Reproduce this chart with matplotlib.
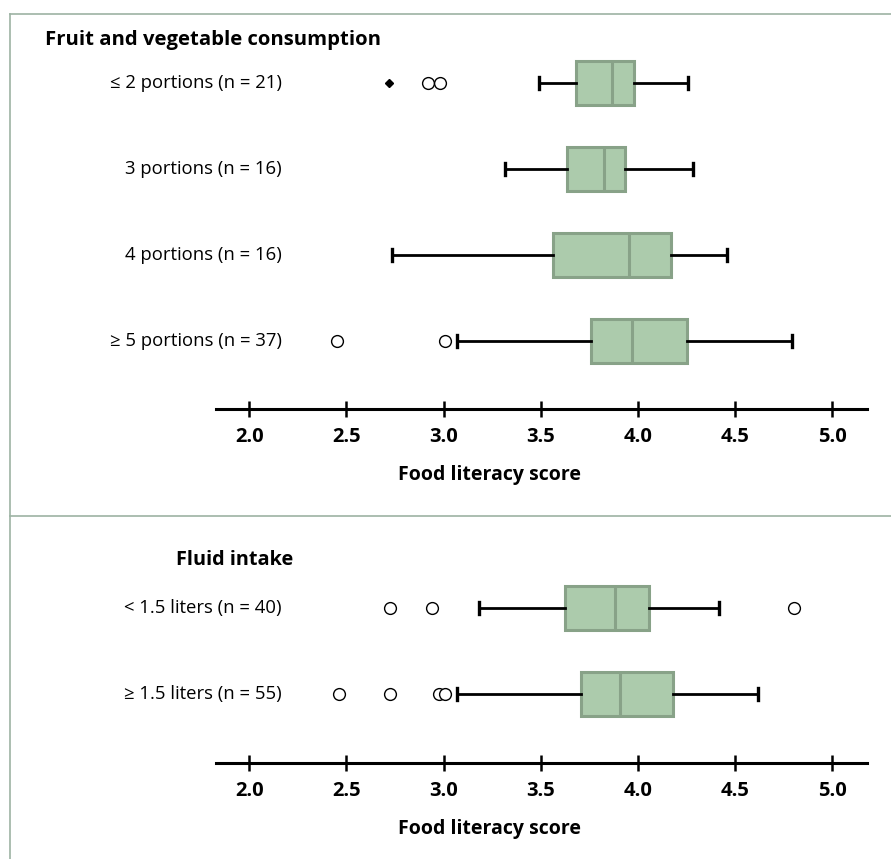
import matplotlib
matplotlib.use("Agg")
import matplotlib.pyplot as plt
from matplotlib import transforms
from matplotlib.lines import Line2D

plt.rcParams['font.family'] = ['Open Sans', 'DejaVu Sans']

# fruit and vegetable consumption
fv_labels = ["\u2264 2 portions (n = 21)", "3 portions (n = 16)",
             "4 portions (n = 16)", "\u2265 5 portions (n = 37)"]
fv_q1 = [3.68, 3.637, 3.565, 3.757]
fv_med = [3.865, 3.827, 3.954, 3.968]
fv_q3 = [3.98, 3.934, 4.17, 4.251]
fv_lo = [3.493, 3.316, 2.734, 3.071]
fv_hi = [4.259, 4.285, 4.457, 4.795]
fv_out = [[2.92, 2.981], [], [], [2.453, 3.007]]
fv_extreme = [[2.721], [], [], []]

# fluid intake
fl_labels = ["< 1.5 liters (n = 40)", "\u2265 1.5 liters (n = 55)"]
fl_q1 = [3.625, 3.706]
fl_med = [3.882, 3.906]
fl_q3 = [4.057, 4.182]
fl_lo = [3.18, 3.069]
fl_hi = [4.415, 4.618]
fl_out = [[2.724, 2.94, 4.801], [2.46, 2.726, 2.976, 3.005]]
fl_extreme = [[], []]

ticks = [2.0, 2.5, 3.0, 3.5, 4.0, 4.5, 5.0]

W, H = 891, 859
face = '#accbac'
edge = '#88a288'
frame = '#9db3a3'

fig = plt.figure(figsize=(W / 100, H / 100), dpi=100)


def panel(top_px, axis_px, row0_px, labels, q1, med, q3, lo, hi, out, extreme):
    ax = fig.add_axes([215.7 / W, 1 - axis_px / H, 651 / W, (axis_px - top_px) / H])
    stats = []
    for i in range(len(labels)):
        stats.append(dict(med=med[i], q1=q1[i], q3=q3[i], whislo=lo[i],
                          whishi=hi[i], fliers=out[i]))
    pos = list(range(len(labels)))
    ax.bxp(stats, positions=pos, vert=False, widths=0.51, patch_artist=True,
           capwidths=0.14,
           boxprops=dict(facecolor=face, edgecolor=edge, linewidth=2.2),
           medianprops=dict(color=edge, linewidth=2.2),
           whiskerprops=dict(color='black', linewidth=2.0),
           capprops=dict(color='black', linewidth=2.4),
           flierprops=dict(marker='o', markerfacecolor='white',
                           markeredgecolor='black', markersize=8.5,
                           markeredgewidth=1.0))
    for i, ex in enumerate(extreme):
        if ex:
            ax.plot(ex, [i] * len(ex), 'D', color='black', markersize=4.5)
    ax.set_xlim((215.7 - 249.3) / 194.3 + 2, (866.7 - 249.3) / 194.3 + 2)
    ax.set_ylim((axis_px - row0_px) / 86, (top_px - row0_px) / 86)
    ax.set_yticks([])
    ax.set_xticks(ticks)
    ax.set_xticklabels(["%.1f" % t for t in ticks], fontsize=14.5, fontweight='bold')
    ax.tick_params(axis='x', direction='inout', length=12, width=1.8, pad=7)
    for s in ['left', 'right', 'top']:
        ax.spines[s].set_visible(False)
    ax.spines['bottom'].set_linewidth(2.2)
    ax.set_xlabel("Food literacy score", fontsize=14, fontweight='bold', va='center')
    ax.xaxis.set_label_coords((490 - 215.7) / 651, -66 / (axis_px - top_px))
    tr = transforms.blended_transform_factory(fig.transFigure, ax.transData)
    for i, lab in enumerate(labels):
        ax.text(282 / W, i, lab, transform=tr, ha='right', va='center',
                fontsize=13.3, clip_on=False)
    return ax


panel(40, 409.3, 82.7, fv_labels, fv_q1, fv_med, fv_q3, fv_lo, fv_hi, fv_out, fv_extreme)
panel(570, 763.3, 608, fl_labels, fl_q1, fl_med, fl_q3, fl_lo, fl_hi, fl_out, fl_extreme)

fig.text(45 / W, 1 - 45 / H, "Fruit and vegetable consumption", fontsize=14.6,
         fontweight='bold', va='baseline')
fig.text(176 / W, 1 - 565 / H, "Fluid intake", fontsize=14.3,
         fontweight='bold', va='baseline')

# frame lines
fig.add_artist(Line2D([9.7 / W, 9.7 / W], [0, 1 - 14 / H], color=frame, lw=1.2))
fig.add_artist(Line2D([9.7 / W, 1], [1 - 14 / H, 1 - 14 / H], color=frame, lw=1.2))
fig.add_artist(Line2D([9.7 / W, 1], [1 - 515.7 / H, 1 - 515.7 / H], color=frame, lw=1.2))

fig.savefig("out.png", dpi=100)
